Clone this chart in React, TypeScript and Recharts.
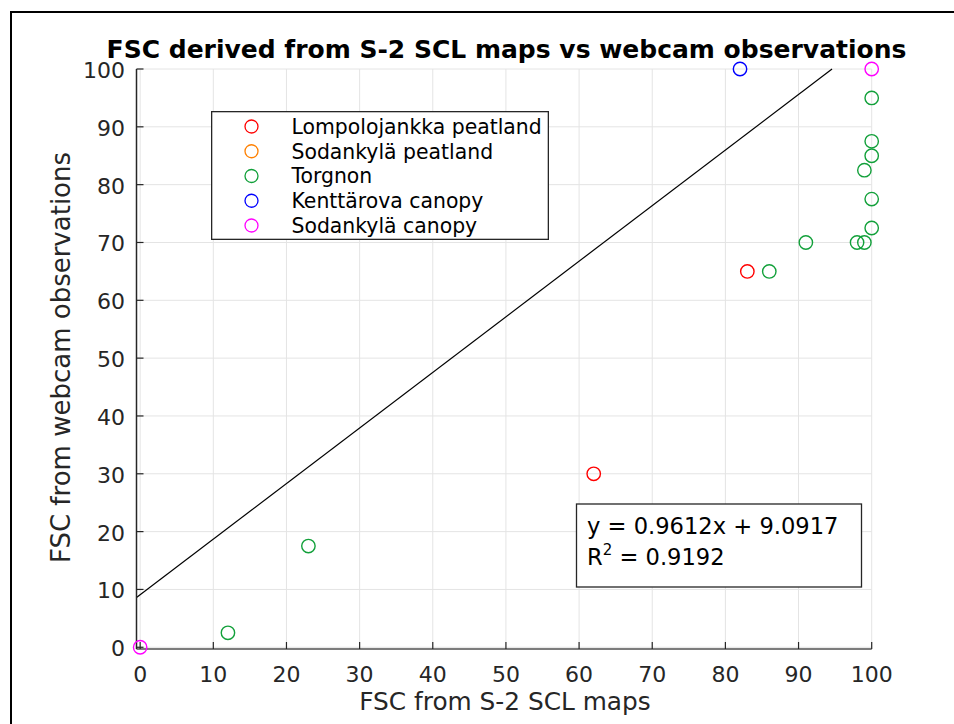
import React from "react";
import {
  ScatterChart, Scatter, XAxis, YAxis, CartesianGrid, ReferenceLine, Legend,
} from "recharts";

const FONT = "DejaVu Sans";
const INK = "#262626";

const axisTicks = [0, 10, 20, 30, 40, 50, 60, 70, 80, 90, 100];

// points: [S-2 SCL FSC, webcam FSC]
const lompolojankka = [{ x: 62, y: 30 }, { x: 83, y: 65 }];
const sodankylaPeat: { x: number; y: number }[] = [];
const torgnon = [
  { x: 12, y: 2.5 }, { x: 23, y: 17.5 }, { x: 86, y: 65 }, { x: 91, y: 70 },
  { x: 98, y: 70 }, { x: 99, y: 70 }, { x: 100, y: 72.5 }, { x: 100, y: 77.5 },
  { x: 99, y: 82.5 }, { x: 100, y: 85 }, { x: 100, y: 87.5 }, { x: 100, y: 95 },
];
const kenttarova = [{ x: 82, y: 100 }];
const sodankylaCanopy = [{ x: 0, y: 0 }, { x: 100, y: 100 }];

const series = [
  { name: "Lompolojankka peatland", color: "#ff0000", data: lompolojankka },
  { name: "Sodankylä peatland", color: "#ff8000", data: sodankylaPeat },
  { name: "Torgnon", color: "#12a03a", data: torgnon },
  { name: "Kenttärova canopy", color: "#0000ff", data: kenttarova },
  { name: "Sodankylä canopy", color: "#ff00ff", data: sodankylaCanopy },
];

// linear fit shown in the box
const slope = 0.9612;
const intercept = 9.0917;
const fitLine = [
  { x: -0.5, y: intercept + slope * -0.5 },
  { x: (100 - intercept) / slope, y: 100 },
];

const XTick = ({ x, y, payload }: any) => (
  <g>
    <line x1={x} x2={x} y1={y} y2={y - 7} stroke={INK} strokeWidth={1.2} />
    <text x={x} y={y + 33} textAnchor="middle" fontSize={22} fill={INK} fontFamily={FONT}>
      {payload.value}
    </text>
  </g>
);

const YTick = ({ x, y, payload }: any) => (
  <g>
    <line x1={x} x2={x + 7} y1={y} y2={y} stroke={INK} strokeWidth={1.2} />
    <text x={x - 11.5} y={y + 9} textAnchor="end" fontSize={22} fill={INK} fontFamily={FONT}>
      {payload.value}
    </text>
  </g>
);

const ring = (color: string) => (p: any) => (
  <circle cx={p.cx} cy={p.cy} r={6.7} fill="none" stroke={color} strokeWidth={1.4} />
);

// keep the plotting order, recharts would sort the entries by name
const LegendBox = () => (
  <svg width={338} height={129} style={{ display: "block" }}>
    <rect x={0.65} y={0.65} width={336.7} height={127.7} fill="#fff" stroke={INK} strokeWidth={1.3} />
    {series.map((s, i) => (
      <g key={s.name}>
        <circle cx={40.5} cy={15.5 + i * 24.75} r={6.5} fill="none" stroke={s.color} strokeWidth={1.3} />
        <text x={80.5} y={22.8 + i * 24.75} fontSize={20.4} fill="#000" fontFamily={FONT}>
          {s.name}
        </text>
      </g>
    ))}
  </svg>
);

export default function App() {
  return (
    <div style={{ position: "absolute", left: 0, top: 0, width: 954, height: 724, overflow: "hidden", background: "#fff" }}>
      <div style={{ position: "absolute", left: 10, top: 11, width: 1000, height: 800, border: "2px solid #000" }} />
      <ScatterChart width={954} height={724} margin={{ top: 69, right: 82.3, bottom: 35, left: 76.5 }}>
        <CartesianGrid stroke="#e4e4e4" strokeWidth={1} />
        <XAxis
          type="number" dataKey="x" domain={[-0.5, 100]} ticks={axisTicks} height={40}
          tickSize={0} tickMargin={0} tick={<XTick />} axisLine={{ stroke: "#555", strokeWidth: 1.5 }}
        />
        <YAxis
          type="number" dataKey="y" domain={[-0.3, 100]} ticks={axisTicks} width={60}
          tickSize={0} tickMargin={0} tick={<YTick />} axisLine={{ stroke: INK, strokeWidth: 1.5 }}
        />
        <ReferenceLine segment={fitLine} stroke="#000" strokeWidth={1.2} ifOverflow="visible" />
        {series.map((s) => (
          <Scatter
            key={s.name} name={s.name} data={s.data} fill={s.color} stroke={s.color}
            shape={ring(s.color)} isAnimationActive={false} legendType="circle"
          />
        ))}
        <Legend
          layout="vertical" align="center" verticalAlign="middle" content={<LegendBox />}
          wrapperStyle={{ position: "absolute", left: 211, top: 111, width: 338, height: 129 }}
        />
      </ScatterChart>
      <svg width={954} height={724} style={{ position: "absolute", left: 0, top: 0, pointerEvents: "none" }} fontFamily={FONT}>
        <text x={506.5} y={58} textAnchor="middle" fontSize={25} fontWeight="bold" fill="#000">
          FSC derived from S-2 SCL maps vs webcam observations
        </text>
        <text x={505} y={710} textAnchor="middle" fontSize={24.8} fill={INK}>
          FSC from S-2 SCL maps
        </text>
        <text transform="translate(70,357.5) rotate(-90)" textAnchor="middle" fontSize={26} fill={INK}>
          FSC from webcam observations
        </text>
        <rect x={576.5} y={504} width={285} height={83} fill="#fff" stroke={INK} strokeWidth={1.3} />
        <text x={587} y={533.5} fontSize={22.6} fill="#000">y = 0.9612x + 9.0917</text>
        <text x={587} y={565} fontSize={22.6} fill="#000">
          R<tspan fontSize={15} dy={-10}>2</tspan><tspan dy={10}> = 0.9192</tspan>
        </text>
      </svg>
    </div>
  );
}
